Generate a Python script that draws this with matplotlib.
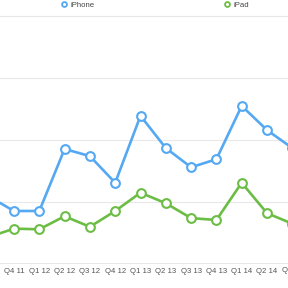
import numpy as np
import matplotlib
matplotlib.use('Agg')
import matplotlib.pyplot as plt
from matplotlib.lines import Line2D

#quarters, the first and last ones are only partly inside the frame
quarters = ['Q3 11', 'Q4 11', 'Q1 12', 'Q2 12', 'Q3 12', 'Q4 12', 'Q1 13',
            'Q2 13', 'Q3 13', 'Q4 13', 'Q1 14', 'Q2 14', 'Q3 14']
iphone = [10.9, 8.55, 8.55, 18.55, 17.4, 13.1, 23.9, 18.7, 15.6, 16.9, 25.5, 21.6, 18.7]
ipad = [4.35, 5.7, 5.6, 7.7, 6.0, 8.55, 11.5, 9.8, 7.4, 7.1, 13.1, 8.2, 6.5]
gridvals = [0, 10, 20, 30, 40]

blue = '#55a8f2'
green = '#6cbd45'

plt.rcParams['font.family'] = ['Liberation Sans', 'DejaVu Sans']

fig = plt.figure(figsize=(2.88, 2.88), dpi=100)
#axes wider than the figure: the chart is cropped on both sides
ax = fig.add_axes([0, 24/288., 1, 248/288.])

x = np.arange(len(quarters)) - 1

for g in gridvals[1:]:
  ax.axhline(g, color='#e8e8e8', lw=0.8, zorder=0, clip_on=False)
ax.axhline(0, color='#8a8a8a', lw=1.0, zorder=1)

mk = dict(marker='o', markersize=6.3, markerfacecolor='white', markeredgewidth=1.5, lw=1.9)
ax.plot(x, iphone, color=blue, markeredgecolor=blue, zorder=3, **mk)
ax.plot(x, ipad, color=green, markeredgecolor=green, zorder=3, **mk)

for s in ax.spines.values():
  s.set_visible(False)
ax.set_yticks([])
ax.set_xticks(x)
ax.set_xticklabels(quarters, fontsize=5.6, color='#555555')
ax.tick_params(axis='x', length=0, pad=3)
#limits after the ticks, set_xticks would widen them
ax.set_xlim(-14/25.3, (288-14)/25.3)
ax.set_ylim(0, 40)

#last label only partly visible at the right edge
ax.text(x[-1], -0.012, quarters[-1], transform=ax.get_xaxis_transform(), ha='center', va='top',
        fontsize=5.6, color='#555555', clip_on=False)

handles = [Line2D([], [], color=blue, marker='o', lw=0, markersize=3.5, markerfacecolor='white', markeredgewidth=1.3),
           Line2D([], [], color=green, marker='o', lw=0, markersize=3.5, markerfacecolor='white', markeredgewidth=1.3)]
fig.legend(handles, ['iPhone', 'iPad'], loc='center', bbox_to_anchor=(155/288., 1-5/288.), ncol=2,
           frameon=False, fontsize=5.6, handlelength=0.8, handletextpad=0.5, columnspacing=16.5,
           borderpad=0, labelcolor='#444444')

fig.savefig('out.png', dpi=100)
